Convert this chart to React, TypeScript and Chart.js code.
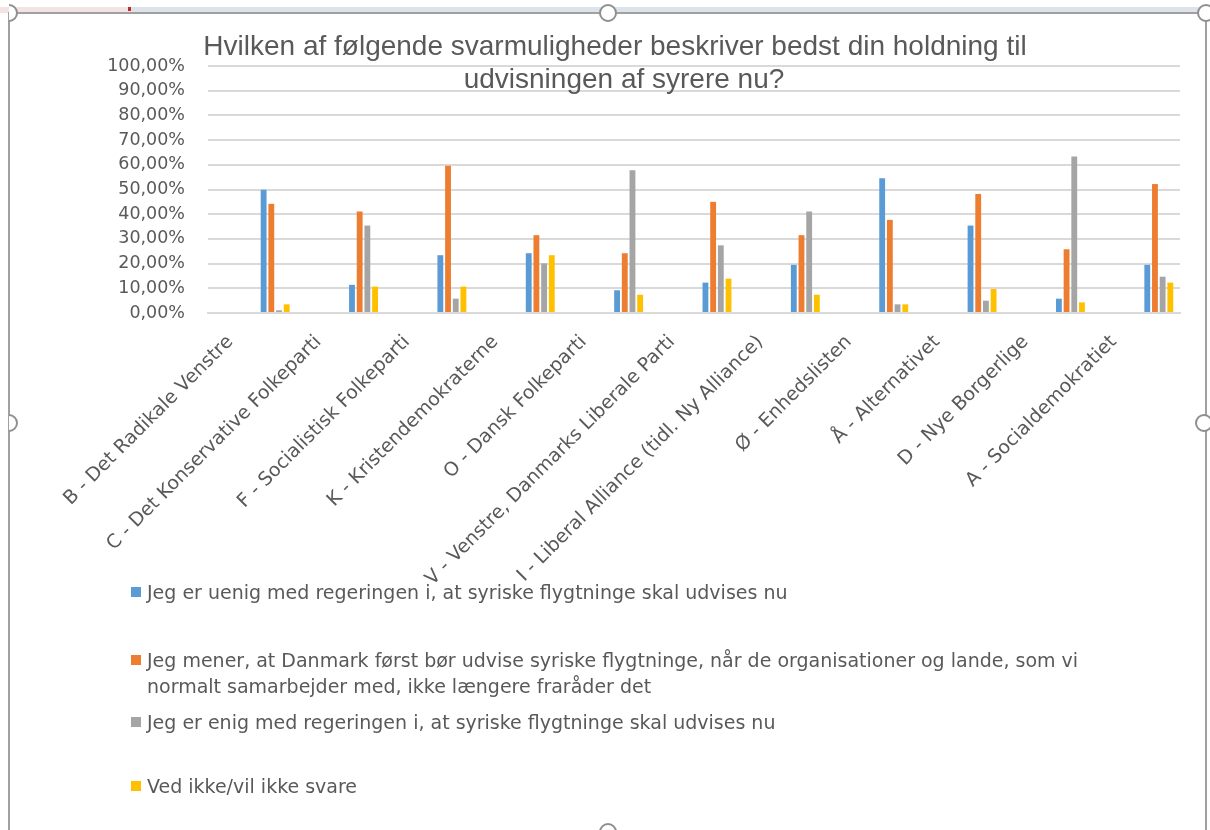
import React, { useEffect, useRef } from 'react';
import { Chart, registerables } from 'chart.js';

Chart.register(...registerables);

// ---------- data ----------
const titleLines = [
  'Hvilken af følgende svarmuligheder beskriver bedst din holdning til',
  'udvisningen af syrere nu?',
];

const categories = [
  'B - Det Radikale Venstre',
  'C - Det Konservative Folkeparti',
  'F - Socialistisk Folkeparti',
  'K - Kristendemokraterne',
  'O - Dansk Folkeparti',
  'V - Venstre, Danmarks Liberale Parti',
  'I - Liberal Alliance (tidl. Ny Alliance)',
  'Ø - Enhedslisten',
  'Å - Alternativet',
  'D - Nye Borgerlige',
  'A - Socialdemokratiet',
];

const seriesNames = [
  'Jeg er uenig med regeringen i, at syriske flygtninge skal udvises nu',
  'Jeg mener, at Danmark først bør udvise syriske flygtninge, når de organisationer og lande, som vi normalt samarbejder med, ikke længere fraråder det',
  'Jeg er enig med regeringen i, at syriske flygtninge skal udvises nu',
  'Ved ikke/vil ikke svare',
];

const uenig = [49.9, 11.4, 23.4, 24.2, 9.2, 12.3, 19.5, 54.6, 35.4, 5.8, 19.5];
const foerstUdvise = [44.2, 41.1, 59.6, 31.5, 24.2, 45.0, 31.5, 37.7, 48.2, 25.8, 52.2];
const enig = [1.1, 35.4, 5.8, 20.1, 57.8, 27.4, 41.1, 3.5, 5.0, 63.4, 14.7];
const vedIkke = [3.5, 10.7, 10.7, 23.4, 7.4, 13.9, 7.4, 3.5, 9.7, 4.3, 12.3];

const seriesValues = [uenig, foerstUdvise, enig, vedIkke];
const seriesColors = ['#5B9BD5', '#ED7D31', '#A5A5A5', '#FFC000'];

const yMin = 0;
const yMax = 100;
const yStep = 10;

// ---------- styling constants ----------
const TEXT = '#595959';
const GRID = '#D9D9D9';
const GROUP_SHIFT = 0.26; // fraction of a category the bar group sits right of centre
const TITLE_CENTERS = [615, 624];

const groupShiftPlugin = {
  id: 'groupShift',
  afterDatasetsUpdate(chart: any) {
    const xs = chart.scales.x;
    const step = xs.getPixelForValue(1) - xs.getPixelForValue(0);
    chart.data.datasets.forEach((_: any, i: number) => {
      const meta = chart.getDatasetMeta(i);
      meta.data.forEach((el: any) => {
        el.x += step * GROUP_SHIFT;
      });
    });
  },
};

const fmtPct = (v: number) => v.toFixed(2).replace('.', ',') + '%';

function ChartCanvas() {
  const ref = useRef<HTMLCanvasElement | null>(null);
  useEffect(() => {
    if (!ref.current) return;
    const chart = new Chart(ref.current, {
      type: 'bar',
      data: {
        labels: categories,
        datasets: seriesValues.map((vals, i) => ({
          label: seriesNames[i],
          data: vals,
          backgroundColor: seriesColors[i],
          borderWidth: 0,
          categoryPercentage: 0.348,
          barPercentage: 0.76,
        })),
      },
      options: {
        animation: false,
        responsive: false,
        maintainAspectRatio: false,
        devicePixelRatio: 1,
        layout: { padding: { top: 66, right: 30, left: 0, bottom: 0 } },
        plugins: {
          legend: { display: false },
          title: { display: false },
          tooltip: { enabled: false },
        },
        scales: {
          x: {
            afterFit: (s: any) => {
              s.height = 830 - 313;
            },
            grid: { display: false },
            border: { display: true, color: GRID, width: 2 },
            ticks: {
              autoSkip: false,
              minRotation: 45,
              maxRotation: 45,
              padding: 10,
              labelOffset: -22,
              color: TEXT,
              font: { family: 'DejaVu Sans', size: 19 },
            },
          },
          y: {
            min: yMin,
            max: yMax,
            afterFit: (s: any) => {
              s.width = 208;
            },
            grid: { color: GRID, lineWidth: 2, drawTicks: false },
            border: { display: false },
            ticks: {
              stepSize: yStep,
              padding: 23,
              color: TEXT,
              font: { family: 'DejaVu Sans', size: 17.5 },
              callback: (v: any) => fmtPct(Number(v)),
            },
          },
        },
      },
      plugins: [groupShiftPlugin],
    });
    return () => chart.destroy();
  }, []);
  return (
    <canvas
      ref={ref}
      width={1210}
      height={830}
      style={{ position: 'absolute', left: 0, top: 0, width: 1210, height: 830 }}
    />
  );
}

const legendTops = [579, 647, 709, 773];

function Handle({ x, y, half }: { x: number; y: number; half?: boolean }) {
  return (
    <div
      style={{
        position: 'absolute',
        left: x - 9,
        top: y - 9,
        width: 14,
        height: 14,
        borderRadius: '50%',
        border: '2px solid #8F8F8F',
        background: '#fff',
        clipPath: half ? 'inset(0 0 0 50%)' : undefined,
      }}
    />
  );
}

export default function App() {
  return (
    <div
      style={{
        position: 'fixed',
        left: 0,
        top: 0,
        width: 1210,
        height: 830,
        overflow: 'hidden',
        background: '#fff',
      }}
    >
      <ChartCanvas />
      {/* title */}
      {titleLines.map((t, i) => (
        <div
          key={i}
          style={{
            position: 'absolute',
            left: TITLE_CENTERS[i] - 600,
            top: 29 + i * 33,
            width: 1200,
            textAlign: 'center',
            fontFamily: '"Liberation Sans", Arial, sans-serif',
            fontSize: 28,
            lineHeight: '33px',
            color: TEXT,
            whiteSpace: 'nowrap',
          }}
        >
          {t}
        </div>
      ))}
      {/* legend box (white fill hides the ends of the longest axis labels) */}
      <div
        style={{
          position: 'absolute',
          left: 122,
          top: 587,
          width: 990,
          height: 243,
          background: '#fff',
        }}
      />
      {seriesNames.map((name, i) => (
        <div key={i} style={{ position: 'absolute', left: 131, top: legendTops[i] }}>
          <div
            style={{
              position: 'absolute',
              left: 0,
              top: 8,
              width: 10,
              height: 10,
              background: seriesColors[i],
            }}
          />
          <div
            style={{
              position: 'absolute',
              left: 16,
              top: 0,
              width: 960,
              fontFamily: '"DejaVu Sans", sans-serif',
              fontSize: 19,
              lineHeight: '26px',
              color: TEXT,
              whiteSpace: 'normal',
            }}
          >
            {name}
          </div>
        </div>
      ))}
      {/* frame decoration */}
      <div style={{ position: 'absolute', left: 0, top: 7, width: 130, height: 6, background: '#F3E3E3' }} />
      <div style={{ position: 'absolute', left: 130, top: 7, width: 1080, height: 6, background: '#DDE3EB' }} />
      <div style={{ position: 'absolute', left: 128, top: 7, width: 3, height: 4, background: '#C0282D' }} />
      <div style={{ position: 'absolute', left: 8, top: 12, width: 1198, height: 2, background: '#A0A0A0' }} />
      <div style={{ position: 'absolute', left: 8, top: 12, width: 2, height: 818, background: '#A0A0A0' }} />
      <div style={{ position: 'absolute', left: 1205, top: 12, width: 2, height: 818, background: '#A0A0A0' }} />
      <Handle x={9} y={13} half />
      <Handle x={608} y={13} />
      <Handle x={1206} y={13} />
      <Handle x={9} y={423} half />
      <Handle x={1204} y={423} />
      <Handle x={608} y={832} />
    </div>
  );
}
